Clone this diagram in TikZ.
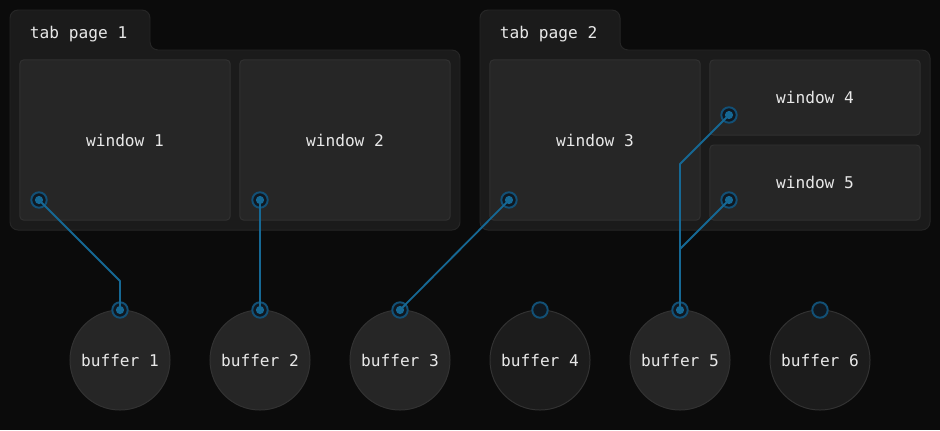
\documentclass[tikz,border=0pt]{standalone}
\usepackage{fontspec}
\setmonofont{DejaVu Sans Mono}

\definecolor{bgdark}{RGB}{11,11,11}
\definecolor{tabfill}{RGB}{27,27,27}
\definecolor{tabline}{RGB}{38,38,38}
\definecolor{winfill}{RGB}{38,38,38}
\definecolor{winline}{RGB}{49,49,49}
\definecolor{buffill}{RGB}{38,38,38}
\definecolor{bufdim}{RGB}{28,28,28}
\definecolor{bufline}{RGB}{50,50,50}
\definecolor{txt}{RGB}{232,232,232}
\definecolor{ringline}{RGB}{18,80,118}
\definecolor{ringfill}{RGB}{16,24,32}
\definecolor{linkblue}{RGB}{22,104,148}

\begin{document}
\begin{tikzpicture}
  [x=0.025cm,y=-0.025cm,
   every node/.style={font=\ttfamily\fontsize{11.5}{14}\selectfont,text=txt},
   tabpage/.style={draw=tabline,fill=tabfill,line width=0.7pt,rounded corners=5.7pt},
   win/.style={rectangle,rounded corners=2.5pt,draw=winline,fill=winfill,line width=0.7pt,
     minimum width=5.25cm,minimum height=4cm},
   winhalf/.style={win,minimum height=1.875cm},
   buf/.style={circle,draw=bufline,fill=buffill,line width=0.7pt,minimum size=2.5cm,inner sep=0pt},
   bufoff/.style={buf,fill=bufdim},
   port/.style={circle,draw=ringline,fill=ringfill,line width=1.4pt,minimum size=11pt,inner sep=0pt},
   used/.style={port,path picture={\fill[linkblue] (path picture bounding box.center) circle (2.9pt);}},
   wire/.style={draw=linkblue,line width=1.3pt,line cap=round,line join=round}]

  \fill[bgdark] (0,0) rectangle (940,430);

  % tab pages
  \draw[tabpage] (10,120) -- (10,10) -- (150,10) -- (150,50) -- (460,50) -- (460,230) -- (10,230) -- cycle;
  \draw[tabpage] (480,120) -- (480,10) -- (620,10) -- (620,50) -- (930,50) -- (930,230) -- (480,230) -- cycle;
  \node[anchor=west] (T_1) at (25,34) {tab page 1};
  \node[anchor=west] (T_2) at (495,34) {tab page 2};

  % windows
  \node[win] (W_1) at (125,140) {window 1};
  \node[win] (W_2) at (345,140) {window 2};
  \node[win] (W_3) at (595,140) {window 3};
  \node[winhalf] (W_4) at (815,97.5) {window 4};
  \node[winhalf] (W_5) at (815,182.5) {window 5};

  % buffers
  \node[buf] (B_1) at (120,360) {buffer 1};
  \node[buf] (B_2) at (260,360) {buffer 2};
  \node[buf] (B_3) at (400,360) {buffer 3};
  \node[bufoff] (B_4) at (540,360) {buffer 4};
  \node[buf] (B_5) at (680,360) {buffer 5};
  \node[bufoff] (B_6) at (820,360) {buffer 6};

  % ports
  \node[used] (P_1) at (39,200) {};
  \node[used] (P_2) at (260,200) {};
  \node[used] (P_3) at (509,200) {};
  \node[used] (P_4) at (729,115) {};
  \node[used] (P_5) at (729,200) {};
  \node[used] (Q_1) at (120,310) {};
  \node[used] (Q_2) at (260,310) {};
  \node[used] (Q_3) at (400,310) {};
  \node[port] (Q_4) at (540,310) {};
  \node[used] (Q_5) at (680,310) {};
  \node[port] (Q_6) at (820,310) {};

  \coordinate (K_1) at (120,281);
  \coordinate (K_4) at (680,164);
  \coordinate (K_5) at (680,249);

  \foreach \from/\to in {P_1/K_1,K_1/Q_1,P_2/Q_2,P_3/Q_3,P_4/K_4,K_4/Q_5,P_5/K_5}
    \draw[wire] (\from.center) -- (\to.center);

\end{tikzpicture}
\end{document}
